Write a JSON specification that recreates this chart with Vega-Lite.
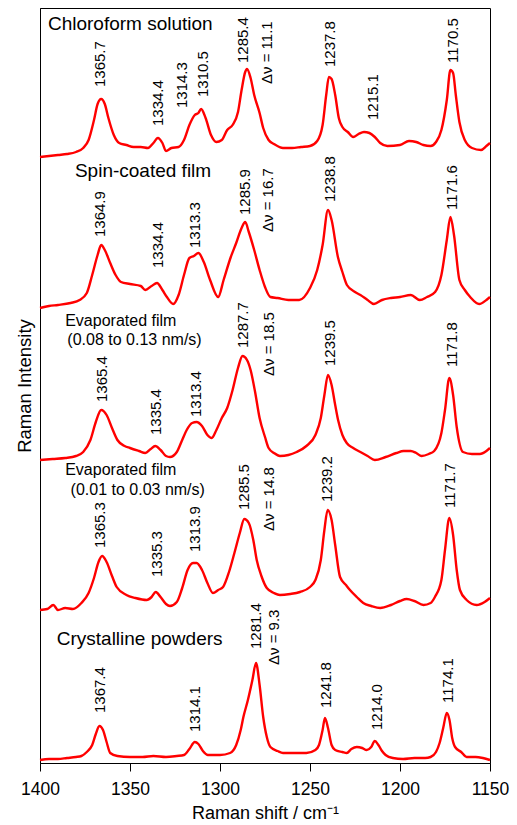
{
  "$schema": "https://vega.github.io/schema/vega-lite/v6.json",
  "width": 450,
  "height": 755,
  "autosize": {"type": "none"},
  "padding": {"left": 40, "top": 8, "right": 27, "bottom": 62},
  "background": "white",
  "config": {
    "view": {"stroke": "black", "strokeWidth": 1},
    "font": "Liberation Sans",
    "text": {"font": "Liberation Sans", "color": "black"}
  },
  "datasets": {
    "spectra": [
      {"s":1,"w":1400,"I":606},{"s":1,"w":1395,"I":607},{"s":1,"w":1390,"I":608},{"s":1,"w":1385,"I":609},{"s":1,"w":1380,"I":611},{"s":1,"w":1376,"I":615},{"s":1,"w":1373,"I":623},{"s":1,"w":1370,"I":643},{"s":1,"w":1368,"I":659},{"s":1,"w":1366,"I":664},{"s":1,"w":1364,"I":659},{"s":1,"w":1362,"I":645},{"s":1,"w":1359,"I":628},{"s":1,"w":1356,"I":620},{"s":1,"w":1352,"I":618},{"s":1,"w":1348,"I":616},{"s":1,"w":1344,"I":616},{"s":1,"w":1340,"I":615},{"s":1,"w":1337,"I":620},{"s":1,"w":1334.5,"I":625},{"s":1,"w":1332,"I":620},{"s":1,"w":1330,"I":612},{"s":1,"w":1327,"I":615},{"s":1,"w":1323,"I":616},{"s":1,"w":1320,"I":623},{"s":1,"w":1317,"I":638},{"s":1,"w":1314,"I":648},{"s":1,"w":1312,"I":650},{"s":1,"w":1310.5,"I":654},{"s":1,"w":1308,"I":645},{"s":1,"w":1305,"I":628},{"s":1,"w":1302,"I":621},{"s":1,"w":1299,"I":623},{"s":1,"w":1296,"I":633},{"s":1,"w":1293,"I":638},{"s":1,"w":1290,"I":651},{"s":1,"w":1288,"I":673},{"s":1,"w":1286,"I":691},{"s":1,"w":1285,"I":694},{"s":1,"w":1283,"I":685},{"s":1,"w":1281,"I":668},{"s":1,"w":1278,"I":650},{"s":1,"w":1276,"I":635},{"s":1,"w":1273,"I":623},{"s":1,"w":1270,"I":619},{"s":1,"w":1265,"I":615},{"s":1,"w":1260,"I":615},{"s":1,"w":1255,"I":616},{"s":1,"w":1250,"I":617},{"s":1,"w":1246,"I":622},{"s":1,"w":1243,"I":638},{"s":1,"w":1241,"I":668},{"s":1,"w":1239.5,"I":686},{"s":1,"w":1238,"I":684},{"s":1,"w":1236,"I":668},{"s":1,"w":1234,"I":645},{"s":1,"w":1232,"I":636},{"s":1,"w":1229,"I":631},{"s":1,"w":1226,"I":626},{"s":1,"w":1223,"I":629},{"s":1,"w":1220,"I":631},{"s":1,"w":1217,"I":630},{"s":1,"w":1214,"I":626},{"s":1,"w":1211,"I":620},{"s":1,"w":1207,"I":617},{"s":1,"w":1200,"I":618},{"s":1,"w":1195,"I":622},{"s":1,"w":1191,"I":621},{"s":1,"w":1187,"I":618},{"s":1,"w":1183,"I":617},{"s":1,"w":1180,"I":621},{"s":1,"w":1177,"I":633},{"s":1,"w":1174,"I":663},{"s":1,"w":1172,"I":693},{"s":1,"w":1170.5,"I":690},{"s":1,"w":1169,"I":668},{"s":1,"w":1167,"I":641},{"s":1,"w":1164,"I":623},{"s":1,"w":1160,"I":615},{"s":1,"w":1155,"I":613},{"s":1,"w":1152,"I":617},{"s":1,"w":1150,"I":620},

      {"s":2,"w":1400,"I":455},{"s":2,"w":1395,"I":457},{"s":2,"w":1390,"I":458},{"s":2,"w":1383,"I":460},{"s":2,"w":1378,"I":463},{"s":2,"w":1374,"I":470},{"s":2,"w":1371,"I":488},{"s":2,"w":1368,"I":508},{"s":2,"w":1366,"I":518},{"s":2,"w":1364,"I":513},{"s":2,"w":1361,"I":500},{"s":2,"w":1358,"I":488},{"s":2,"w":1355,"I":481},{"s":2,"w":1350,"I":479},{"s":2,"w":1344,"I":477},{"s":2,"w":1341.5,"I":473},{"s":2,"w":1338,"I":477},{"s":2,"w":1335,"I":480},{"s":2,"w":1332,"I":473},{"s":2,"w":1329.5,"I":466},{"s":2,"w":1326,"I":459},{"s":2,"w":1323,"I":468},{"s":2,"w":1320,"I":488},{"s":2,"w":1317,"I":505},{"s":2,"w":1314.5,"I":507},{"s":2,"w":1312,"I":510},{"s":2,"w":1309,"I":501},{"s":2,"w":1305.5,"I":483},{"s":2,"w":1301,"I":466},{"s":2,"w":1298,"I":483},{"s":2,"w":1294,"I":506},{"s":2,"w":1291,"I":520},{"s":2,"w":1288,"I":535},{"s":2,"w":1286,"I":541},{"s":2,"w":1284,"I":531},{"s":2,"w":1281,"I":513},{"s":2,"w":1278,"I":493},{"s":2,"w":1275,"I":476},{"s":2,"w":1272,"I":466},{"s":2,"w":1268,"I":465},{"s":2,"w":1262,"I":463},{"s":2,"w":1256,"I":463},{"s":2,"w":1250,"I":475},{"s":2,"w":1246,"I":493},{"s":2,"w":1243,"I":518},{"s":2,"w":1240,"I":553},{"s":2,"w":1238,"I":543},{"s":2,"w":1234.5,"I":506},{"s":2,"w":1232,"I":491},{"s":2,"w":1229.5,"I":478},{"s":2,"w":1225,"I":471},{"s":2,"w":1222,"I":468},{"s":2,"w":1218,"I":463},{"s":2,"w":1214.5,"I":459},{"s":2,"w":1210,"I":463},{"s":2,"w":1205,"I":465},{"s":2,"w":1200,"I":466},{"s":2,"w":1194,"I":468},{"s":2,"w":1189,"I":463},{"s":2,"w":1185,"I":466},{"s":2,"w":1180.5,"I":471},{"s":2,"w":1177,"I":488},{"s":2,"w":1174,"I":523},{"s":2,"w":1172,"I":546},{"s":2,"w":1170,"I":528},{"s":2,"w":1167,"I":483},{"s":2,"w":1164,"I":473},{"s":2,"w":1161,"I":466},{"s":2,"w":1156,"I":459},{"s":2,"w":1152,"I":463},{"s":2,"w":1150,"I":466},

      {"s":3,"w":1400,"I":303},{"s":3,"w":1393,"I":304},{"s":3,"w":1386,"I":305},{"s":3,"w":1380,"I":307},{"s":3,"w":1376,"I":311},{"s":3,"w":1372,"I":323},{"s":3,"w":1369,"I":341},{"s":3,"w":1366,"I":353},{"s":3,"w":1363,"I":348},{"s":3,"w":1360,"I":335},{"s":3,"w":1357,"I":323},{"s":3,"w":1353,"I":317},{"s":3,"w":1350,"I":315},{"s":3,"w":1345,"I":312},{"s":3,"w":1341.5,"I":310},{"s":3,"w":1338.5,"I":314},{"s":3,"w":1336,"I":317},{"s":3,"w":1333,"I":313},{"s":3,"w":1330,"I":307},{"s":3,"w":1327.8,"I":306},{"s":3,"w":1324,"I":311},{"s":3,"w":1321,"I":323},{"s":3,"w":1318.5,"I":333},{"s":3,"w":1315.5,"I":340},{"s":3,"w":1313,"I":341},{"s":3,"w":1310,"I":337},{"s":3,"w":1307,"I":328},{"s":3,"w":1304.6,"I":325},{"s":3,"w":1302,"I":333},{"s":3,"w":1299,"I":345},{"s":3,"w":1296,"I":355},{"s":3,"w":1293,"I":373},{"s":3,"w":1290,"I":395},{"s":3,"w":1287.5,"I":407},{"s":3,"w":1285,"I":403},{"s":3,"w":1283,"I":393},{"s":3,"w":1280.5,"I":371},{"s":3,"w":1278,"I":345},{"s":3,"w":1275,"I":326},{"s":3,"w":1273,"I":315},{"s":3,"w":1270,"I":310},{"s":3,"w":1266.7,"I":307},{"s":3,"w":1262,"I":308},{"s":3,"w":1257.4,"I":311},{"s":3,"w":1252,"I":317},{"s":3,"w":1247,"I":328},{"s":3,"w":1244,"I":345},{"s":3,"w":1242,"I":368},{"s":3,"w":1240,"I":388},{"s":3,"w":1238,"I":378},{"s":3,"w":1236,"I":358},{"s":3,"w":1234.4,"I":343},{"s":3,"w":1232,"I":328},{"s":3,"w":1229.6,"I":320},{"s":3,"w":1226,"I":315},{"s":3,"w":1222,"I":311},{"s":3,"w":1218,"I":307},{"s":3,"w":1214,"I":303},{"s":3,"w":1208,"I":306},{"s":3,"w":1202,"I":310},{"s":3,"w":1198,"I":312},{"s":3,"w":1194,"I":312},{"s":3,"w":1191,"I":310},{"s":3,"w":1188,"I":307},{"s":3,"w":1184,"I":309},{"s":3,"w":1181,"I":312},{"s":3,"w":1177,"I":330},{"s":3,"w":1175,"I":353},{"s":3,"w":1172.6,"I":385},{"s":3,"w":1170.5,"I":368},{"s":3,"w":1168.5,"I":336},{"s":3,"w":1165,"I":311},{"s":3,"w":1160,"I":309},{"s":3,"w":1155.6,"I":309},{"s":3,"w":1152,"I":312},{"s":3,"w":1150,"I":315},

      {"s":4,"w":1400,"I":153},{"s":4,"w":1396,"I":154},{"s":4,"w":1392.6,"I":158},{"s":4,"w":1390,"I":153},{"s":4,"w":1386,"I":155},{"s":4,"w":1381.7,"I":154},{"s":4,"w":1377,"I":160},{"s":4,"w":1373,"I":170},{"s":4,"w":1370,"I":185},{"s":4,"w":1367.5,"I":201},{"s":4,"w":1365.5,"I":207},{"s":4,"w":1363,"I":201},{"s":4,"w":1360,"I":187},{"s":4,"w":1357.4,"I":176},{"s":4,"w":1352,"I":168},{"s":4,"w":1347,"I":165},{"s":4,"w":1340.7,"I":163},{"s":4,"w":1338,"I":166},{"s":4,"w":1335.7,"I":171},{"s":4,"w":1333,"I":166},{"s":4,"w":1330,"I":159},{"s":4,"w":1327.8,"I":157},{"s":4,"w":1324,"I":161},{"s":4,"w":1321,"I":175},{"s":4,"w":1318,"I":193},{"s":4,"w":1315,"I":200},{"s":4,"w":1313,"I":200},{"s":4,"w":1310,"I":193},{"s":4,"w":1307,"I":180},{"s":4,"w":1303.9,"I":170},{"s":4,"w":1301,"I":173},{"s":4,"w":1298.3,"I":176},{"s":4,"w":1295,"I":191},{"s":4,"w":1292,"I":210},{"s":4,"w":1289,"I":230},{"s":4,"w":1286.5,"I":244},{"s":4,"w":1284,"I":240},{"s":4,"w":1281.5,"I":223},{"s":4,"w":1279.6,"I":203},{"s":4,"w":1277,"I":187},{"s":4,"w":1274,"I":175},{"s":4,"w":1270,"I":170},{"s":4,"w":1266.7,"I":168},{"s":4,"w":1261,"I":169},{"s":4,"w":1255.6,"I":171},{"s":4,"w":1250,"I":176},{"s":4,"w":1247,"I":183},{"s":4,"w":1244,"I":203},{"s":4,"w":1242,"I":233},{"s":4,"w":1240.2,"I":253},{"s":4,"w":1238,"I":243},{"s":4,"w":1236,"I":218},{"s":4,"w":1233.3,"I":186},{"s":4,"w":1230,"I":178},{"s":4,"w":1227.8,"I":173},{"s":4,"w":1224,"I":166},{"s":4,"w":1220.4,"I":160},{"s":4,"w":1216,"I":157},{"s":4,"w":1211,"I":155},{"s":4,"w":1205,"I":158},{"s":4,"w":1200,"I":162},{"s":4,"w":1196.3,"I":164},{"s":4,"w":1192,"I":162},{"s":4,"w":1187,"I":158},{"s":4,"w":1183,"I":160},{"s":4,"w":1180.6,"I":166},{"s":4,"w":1177,"I":183},{"s":4,"w":1175,"I":213},{"s":4,"w":1172.6,"I":245},{"s":4,"w":1170.5,"I":228},{"s":4,"w":1168.5,"I":193},{"s":4,"w":1166.7,"I":173},{"s":4,"w":1163,"I":163},{"s":4,"w":1157.4,"I":158},{"s":4,"w":1153,"I":161},{"s":4,"w":1150,"I":165},

      {"s":5,"w":1400,"I":3},{"s":5,"w":1395,"I":4},{"s":5,"w":1390,"I":4},{"s":5,"w":1385,"I":5},{"s":5,"w":1380,"I":6},{"s":5,"w":1377,"I":7},{"s":5,"w":1374,"I":11},{"s":5,"w":1371,"I":18},{"s":5,"w":1369,"I":29},{"s":5,"w":1367,"I":37},{"s":5,"w":1365,"I":33},{"s":5,"w":1363,"I":21},{"s":5,"w":1361,"I":10},{"s":5,"w":1357,"I":7},{"s":5,"w":1350,"I":6},{"s":5,"w":1343,"I":6},{"s":5,"w":1337,"I":7},{"s":5,"w":1330,"I":6},{"s":5,"w":1324,"I":7},{"s":5,"w":1320,"I":8},{"s":5,"w":1317,"I":14},{"s":5,"w":1314,"I":21},{"s":5,"w":1312,"I":19},{"s":5,"w":1309.5,"I":12},{"s":5,"w":1306.7,"I":8},{"s":5,"w":1300,"I":8},{"s":5,"w":1294.4,"I":10},{"s":5,"w":1291,"I":18},{"s":5,"w":1288.5,"I":33},{"s":5,"w":1287,"I":46},{"s":5,"w":1284.5,"I":63},{"s":5,"w":1282,"I":83},{"s":5,"w":1280,"I":100},{"s":5,"w":1278,"I":78},{"s":5,"w":1276,"I":46},{"s":5,"w":1274,"I":26},{"s":5,"w":1272,"I":16},{"s":5,"w":1268,"I":12},{"s":5,"w":1265,"I":10},{"s":5,"w":1258,"I":10},{"s":5,"w":1252,"I":10},{"s":5,"w":1247,"I":13},{"s":5,"w":1245,"I":18},{"s":5,"w":1243,"I":33},{"s":5,"w":1241.7,"I":45},{"s":5,"w":1240,"I":35},{"s":5,"w":1238,"I":18},{"s":5,"w":1236,"I":13},{"s":5,"w":1232,"I":11},{"s":5,"w":1229.6,"I":10},{"s":5,"w":1227,"I":14},{"s":5,"w":1224,"I":16},{"s":5,"w":1221,"I":15},{"s":5,"w":1218.5,"I":13},{"s":5,"w":1216,"I":16},{"s":5,"w":1214,"I":22},{"s":5,"w":1212,"I":18},{"s":5,"w":1210,"I":12},{"s":5,"w":1208,"I":8},{"s":5,"w":1204,"I":5},{"s":5,"w":1198.3,"I":4},{"s":5,"w":1192,"I":5},{"s":5,"w":1186,"I":5},{"s":5,"w":1183,"I":6},{"s":5,"w":1180,"I":11},{"s":5,"w":1178,"I":20},{"s":5,"w":1176,"I":35},{"s":5,"w":1174,"I":50},{"s":5,"w":1172.5,"I":43},{"s":5,"w":1171,"I":25},{"s":5,"w":1169.4,"I":16},{"s":5,"w":1166,"I":11},{"s":5,"w":1163,"I":6},{"s":5,"w":1158,"I":6},{"s":5,"w":1154,"I":5},{"s":5,"w":1150,"I":3}
    ],
    "peaks": [
      {"w":1366.7,"I":676,"t":"1365.7"},{"w":1334.6,"I":637,"t":"1334.4"},{"w":1321.3,"I":655,"t":"1314.3"},{"w":1309.4,"I":666,"t":"1310.5"},{"w":1287.2,"I":700,"t":"1285.4"},{"w":1274,"I":679,"t":"Δν = 11.1"},{"w":1238.9,"I":696,"t":"1237.8"},{"w":1215.2,"I":643,"t":"1215.1"},{"w":1170.4,"I":700,"t":"1170.5"},
      {"w":1366.7,"I":526,"t":"1364.9"},{"w":1334.3,"I":495,"t":"1334.4"},{"w":1313.9,"I":515,"t":"1313.3"},{"w":1286.1,"I":548,"t":"1285.9"},{"w":1273.5,"I":531,"t":"Δν = 16.7"},{"w":1238.9,"I":561,"t":"1238.8"},{"w":1171.3,"I":553,"t":"1171.6"},
      {"w":1365.7,"I":361,"t":"1365.4"},{"w":1335.6,"I":328,"t":"1335.4"},{"w":1313.3,"I":346,"t":"1313.4"},{"w":1287.2,"I":415,"t":"1287.7"},{"w":1273,"I":387,"t":"Δν = 18.5"},{"w":1238.9,"I":397,"t":"1239.5"},{"w":1171.3,"I":396,"t":"1171.8"},
      {"w":1366.7,"I":215,"t":"1365.3"},{"w":1335.2,"I":186,"t":"1335.3"},{"w":1313.9,"I":211,"t":"1313.9"},{"w":1286.5,"I":253,"t":"1285.5"},{"w":1272.8,"I":232,"t":"Δν = 14.8"},{"w":1240.4,"I":261,"t":"1239.2"},{"w":1172.2,"I":255,"t":"1171.7"},
      {"w":1366.7,"I":50,"t":"1367.4"},{"w":1313.9,"I":31,"t":"1314.1"},{"w":1280,"I":114,"t":"1281.4"},{"w":1270,"I":98,"t":"Δν = 9.3"},{"w":1241.1,"I":55,"t":"1241.8"},{"w":1212.6,"I":33,"t":"1214.0"},{"w":1173.2,"I":60,"t":"1174.1"}
    ],
    "names": [
      {"w":1395.6,"I":733,"t":"Chloroform solution"},
      {"w":1380.6,"I":586,"t":"Spin-coated film"},
      {"w":1390.7,"I":118,"t":"Crystalline powders"}
    ],
    "evap": [
      {"w":1386,"I":437,"t":"Evaporated film"},
      {"w":1384.8,"I":418,"t":"(0.08 to 0.13 nm/s)"},
      {"w":1386,"I":288,"t":"Evaporated film"},
      {"w":1383,"I":268,"t":"(0.01 to 0.03 nm/s)"}
    ]
  },
  "encoding": {
    "x": {
      "field": "w", "type": "quantitative",
      "scale": {"domain": [1150, 1400], "reverse": true, "nice": false, "zero": false},
      "axis": {
        "values": [1400, 1350, 1300, 1250, 1200, 1150],
        "format": "d",
        "title": "Raman shift / cm⁻¹",
        "grid": false, "tickSize": 8, "tickColor": "black", "domainColor": "black",
        "labelFontSize": 17.5, "labelColor": "black", "labelFlush": false, "labelOverlap": false, "labelPadding": 9,
        "labelFont": "Liberation Sans", "titleFont": "Liberation Sans",
        "titleFontSize": 18, "titleFontWeight": "normal", "titleColor": "black", "titlePadding": 7
      }
    },
    "y": {
      "field": "I", "type": "quantitative",
      "scale": {"domain": [0, 755], "nice": false, "zero": false},
      "axis": {
        "title": "Raman Intensity", "ticks": false, "labels": false, "grid": false,
        "domainColor": "black", "titleFont": "Liberation Sans", "titleFontSize": 18.5,
        "titleFontWeight": "normal", "titleColor": "black", "titlePadding": 6
      }
    }
  },
  "layer": [
    {
      "data": {"name": "spectra"},
      "mark": {"type": "line", "color": "#ff0000", "strokeWidth": 2.4, "interpolate": "monotone"},
      "encoding": {"detail": {"field": "s"}}
    },
    {
      "data": {"name": "peaks"},
      "mark": {"type": "text", "angle": 270, "align": "left", "baseline": "middle", "fontSize": 15, "font": "Liberation Sans", "color": "black"},
      "encoding": {"text": {"field": "t"}}
    },
    {
      "data": {"name": "names"},
      "mark": {"type": "text", "align": "left", "baseline": "alphabetic", "fontSize": 19, "font": "Liberation Sans", "color": "black"},
      "encoding": {"text": {"field": "t"}}
    },
    {
      "data": {"name": "evap"},
      "mark": {"type": "text", "align": "left", "baseline": "alphabetic", "fontSize": 16, "font": "Liberation Sans", "color": "black"},
      "encoding": {"text": {"field": "t"}}
    }
  ]
}
